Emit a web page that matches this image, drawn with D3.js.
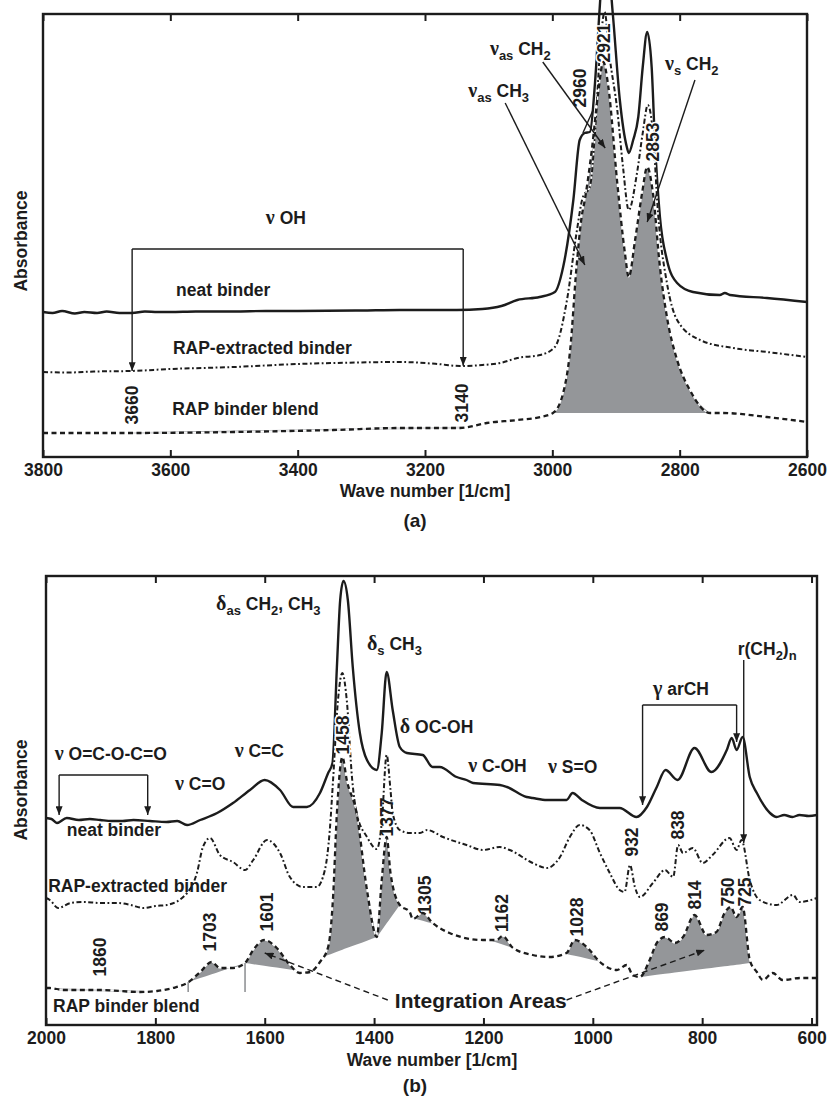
<!DOCTYPE html>
<html>
<head>
<meta charset="utf-8">
<script src="https://cdn.jsdelivr.net/npm/d3@7"></script>
<style>
  body { margin: 0; background: #fff; }
  svg { display: block; }
  text { font-family: "Liberation Sans", Arial, Helvetica, sans-serif; font-weight: bold; fill: #1c1c1c; }
</style>
</head>
<body>
<svg id="chart" width="829" height="1097"></svg>
<script>
// ---------- Panel (a): C-H stretching region, [wavenumber 1/cm, absorbance a.u.] ----------
const neatA = [[3800,1.45],[3785,1.44],[3770,1.46],[3750,1.435],[3735,1.45],[3715,1.44],[3700,1.455],[3680,1.44],[3660,1.44],[3640,1.455],[3620,1.45],[3600,1.45],[3560,1.455],[3500,1.455],[3450,1.46],[3400,1.46],[3300,1.465],[3240,1.47],[3150,1.47],[3110,1.48],[3080,1.51],[3055,1.57],[3020,1.60],[2996,1.65],[2983,1.90],[2967,2.57],[2957,3.17],[2949,3.24],[2941,3.25],[2933,3.74],[2926,4.45],[2917,5.2],[2905,4.43],[2894,3.57],[2883,3.10],[2880,3.04],[2873,3.17],[2865,3.40],[2858,3.90],[2851,4.25],[2844,3.90],[2839,3.17],[2831,2.40],[2820,1.97],[2804,1.74],[2779,1.65],[2737,1.62],[2729,1.64],[2721,1.62],[2663,1.59],[2600,1.55]];
const extractedA = [[3800,0.85],[3760,0.845],[3720,0.855],[3663,0.86],[3600,0.88],[3500,0.90],[3400,0.93],[3344,0.94],[3240,0.95],[3180,0.93],[3145,0.91],[3110,0.92],[3082,0.94],[3055,0.99],[3019,1.02],[2996,1.10],[2977,1.57],[2962,2.24],[2952,2.60],[2941,2.70],[2933,3.24],[2925,4.07],[2918,4.45],[2910,4.00],[2898,3.47],[2889,2.90],[2880,2.47],[2867,2.84],[2858,3.24],[2850,3.52],[2842,3.24],[2834,2.44],[2820,1.74],[2804,1.37],[2768,1.17],[2716,1.09],[2663,1.05],[2600,1.00]];
const blendA = [[3800,0.24],[3700,0.24],[3659,0.24],[3500,0.25],[3344,0.27],[3240,0.29],[3145,0.29],[3103,0.34],[3055,0.37],[3019,0.40],[2999,0.44],[2983,0.64],[2972,1.07],[2962,1.90],[2954,2.40],[2949,2.57],[2938,3.07],[2928,3.64],[2920,3.95],[2912,3.70],[2898,2.74],[2886,2.04],[2880,1.80],[2870,2.17],[2859,2.64],[2851,2.90],[2842,2.64],[2831,1.90],[2820,1.40],[2804,0.97],[2784,0.67],[2752,0.44],[2732,0.44],[2663,0.40],[2600,0.35]];
const ticksA = [3800, 3600, 3400, 3200, 3000, 2800, 2600];
// integrated bands of the blend spectrum: [from, to]
const bandsA = [[2999, 2752]];
const weakBandsA = [[3660, 3140]];
// peak labels: [wavenumber position, absorbance position, text]
const peakLabelsA = [[3660,0.52,"3660"],[3142,0.54,"3140"],[2957,3.69,"2960"],[2920,4.14,"2921"],[2843,3.15,"2853"]];

// ---------- Panel (b): fingerprint region ----------
const neatB = [[2000,2.07],[1990,2.06],[1980,2.02],[1962,2.07],[1940,2.05],[1920,2.06],[1901,2.05],[1880,2.04],[1860,2.04],[1840,2.05],[1810,2.04],[1780,2.03],[1760,2.04],[1742,2.00],[1718,2.05],[1687,2.12],[1658,2.22],[1627,2.35],[1600,2.45],[1572,2.35],[1548,2.18],[1523,2.18],[1499,2.32],[1484,2.52],[1476,2.62],[1468,3.58],[1462,4.25],[1456,4.44],[1448,4.25],[1439,3.58],[1426,2.92],[1413,2.65],[1395,2.55],[1386,2.92],[1377,3.53],[1366,3.15],[1353,2.78],[1340,2.72],[1311,2.70],[1293,2.58],[1280,2.58],[1249,2.48],[1231,2.45],[1219,2.42],[1170,2.40],[1157,2.38],[1121,2.28],[1110,2.27],[1084,2.25],[1048,2.25],[1037,2.32],[1020,2.25],[987,2.17],[951,2.17],[920,2.08],[901,2.18],[883,2.38],[867,2.55],[845,2.45],[814,2.77],[783,2.53],[755,2.75],[746,2.87],[737,2.75],[726,2.88],[713,2.48],[700,2.32],[676,2.12],[664,2.08],[650,2.10],[635,2.08],[622,2.10],[605,2.09],[590,2.10]];
const extractedB = [[2000,1.27],[1993,1.25],[1978,1.17],[1955,1.22],[1932,1.23],[1900,1.22],[1870,1.22],[1845,1.20],[1822,1.17],[1800,1.19],[1779,1.20],[1742,1.32],[1724,1.52],[1713,1.78],[1700,1.87],[1682,1.70],[1658,1.63],[1636,1.55],[1621,1.65],[1596,1.85],[1572,1.72],[1554,1.48],[1530,1.38],[1505,1.38],[1490,1.55],[1481,1.95],[1475,2.45],[1466,3.25],[1458,3.52],[1450,3.25],[1440,2.45],[1432,2.12],[1413,1.88],[1395,1.76],[1386,2.02],[1377,2.70],[1370,2.35],[1366,2.12],[1353,1.95],[1335,1.92],[1316,1.92],[1303,1.95],[1274,1.88],[1231,1.80],[1201,1.75],[1170,1.78],[1152,1.75],[1110,1.62],[1084,1.57],[1060,1.68],[1042,1.88],[1024,2.00],[1006,1.95],[987,1.72],[969,1.52],[951,1.35],[942,1.33],[932,1.60],[923,1.38],[914,1.28],[890,1.42],[868,1.55],[853,1.48],[844,1.80],[835,1.72],[817,1.77],[799,1.62],[781,1.70],[750,1.87],[737,1.75],[728,1.85],[713,1.45],[695,1.25],[664,1.20],[634,1.30],[622,1.23],[590,1.27]];
const blendB = [[2000,0.37],[1993,0.37],[1968,0.35],[1901,0.35],[1828,0.33],[1797,0.34],[1768,0.37],[1742,0.42],[1718,0.53],[1697,0.63],[1682,0.57],[1658,0.57],[1636,0.62],[1621,0.75],[1601,0.85],[1578,0.77],[1554,0.60],[1536,0.52],[1517,0.53],[1499,0.63],[1484,0.78],[1475,1.28],[1468,2.12],[1458,2.68],[1450,2.45],[1432,2.12],[1413,1.35],[1395,0.88],[1386,1.45],[1377,1.88],[1370,1.52],[1353,1.20],[1335,1.13],[1329,1.06],[1311,1.12],[1293,1.02],[1262,0.92],[1201,0.85],[1176,0.85],[1165,0.89],[1146,0.77],[1110,0.70],[1079,0.68],[1048,0.72],[1033,0.85],[1011,0.78],[987,0.63],[956,0.55],[938,0.60],[927,0.50],[914,0.48],[896,0.65],[883,0.82],[868,0.88],[850,0.82],[835,0.88],[814,1.10],[792,0.90],[774,0.93],[759,1.12],[748,1.18],[737,1.08],[726,1.18],[713,0.65],[700,0.53],[689,0.45],[671,0.52],[653,0.45],[620,0.47],[590,0.47]];
const ticksB = [2000, 1800, 1600, 1400, 1200, 1000, 800, 600];
const bandsB = [[1740,1636],[1636,1542],[1494,1395],[1395,1353],[1330,1290],[1190,1140],[1052,988],[914,710]];
const weakBandsB = [[1980,1820]];
const dropLinesB = [1740, 1636];
const peakLabelsB = [[1901,0.68,"1860"],[1700,0.93,"1703"],[1596,1.13,"1601"],[1457,2.90,"1458"],[1377,2.08,"1377"],[1307,1.30,"1305"],[1166,1.12,"1162"],[1029,1.08,"1028"],[929,1.83,"932"],[845,2.00,"838"],[874,1.08,"869"],[814,1.30,"814"],[753,1.33,"750"],[722,1.33,"725"]];

const svg = d3.select("#chart");
const FILL = "#949699";
const INK = "#1c1c1c";
const FS = 17.5;
const defs = svg.append("defs");
defs.append("marker").attr("id", "arrow").attr("viewBox", "0 0 10 8")
  .attr("refX", 10).attr("refY", 4).attr("markerWidth", 9).attr("markerHeight", 7)
  .attr("markerUnits", "userSpaceOnUse").attr("orient", "auto")
  .append("path").attr("d", "M0,0L10,4L0,8z").attr("fill", INK);

// linear read-out of a spectrum at a given wavenumber
function valueAt(series, w) {
  for (let i = 0; i < series.length - 1; i++) {
    const a = series[i], b = series[i + 1];
    if (w <= a[0] && w >= b[0]) return a[1] + (b[1] - a[1]) * (w - a[0]) / (b[0] - a[0]);
  }
  return series[series.length - 1][1];
}

function richText(g, x, y, parts, size) {
  const t = g.append("text").attr("x", x).attr("y", y).attr("font-size", size || FS);
  let shift = 0;
  parts.forEach(p => {
    const s = t.append("tspan").text(p.t);
    if (p.greek) s.attr("font-family", '"Liberation Serif","Times New Roman",serif').attr("font-size", 20);
    const target = p.sub ? 5 : 0;
    if (target !== shift) { s.attr("dy", target - shift); shift = target; }
    if (p.sub) s.attr("font-size", 13);
  });
  return t;
}

function drawPanel(cfg) {
  const { x, y, neat, extracted, blend, ticks, bands, weakBands, peakLabels, haloLabels, id } = cfg;
  const g = svg.append("g");
  const [x0, x1] = x.range();
  const [yb, yt] = y.range();

  defs.append("clipPath").attr("id", id).append("rect")
    .attr("x", x0).attr("y", 0).attr("width", x1 - x0).attr("height", yb);
  const plot = g.append("g").attr("clip-path", `url(#${id})`);

  // integration areas between the blend spectrum and straight baselines
  const area = (w1, w2) => {
    const v1 = valueAt(blend, w1), v2 = valueAt(blend, w2);
    const pts = [[w1, v1], ...blend.filter(d => d[0] < w1 && d[0] > w2), [w2, v2]];
    const base = w => v1 + (v2 - v1) * (w - w1) / (w2 - w1);
    return d3.area().x(d => x(d[0])).y0(d => y(base(d[0]))).y1(d => y(d[1]))
      .curve(d3.curveMonotoneX)(pts);
  };
  weakBands.forEach(b => plot.append("path").attr("d", area(b[0], b[1]))
    .attr("fill", "#b4b5b8").attr("stroke", "#b4b5b8").attr("stroke-width", 1.6));
  bands.forEach(b => plot.append("path").attr("d", area(b[0], b[1])).attr("fill", FILL));

  const line = d3.line().x(d => x(d[0])).y(d => y(d[1])).curve(d3.curveMonotoneX);
  plot.append("path").datum(neat).attr("d", line).attr("fill", "none")
    .attr("stroke", INK).attr("stroke-width", 2.4).attr("stroke-linejoin", "round");
  plot.append("path").datum(extracted).attr("d", line).attr("fill", "none")
    .attr("stroke", "#fff").attr("stroke-width", 1.4);
  plot.append("path").datum(extracted).attr("d", line).attr("fill", "none")
    .attr("stroke", INK).attr("stroke-width", 2).attr("stroke-dasharray", "5,2.5,1.8,2.5");
  plot.append("path").datum(blend).attr("d", line).attr("fill", "none")
    .attr("stroke", "#fff").attr("stroke-width", 1.2);
  plot.append("path").datum(blend).attr("d", line).attr("fill", "none")
    .attr("stroke", INK).attr("stroke-width", 2.3).attr("stroke-dasharray", "5,3.5");

  // frame and inward ticks
  g.append("rect").attr("x", x0).attr("y", yt).attr("width", x1 - x0).attr("height", yb - yt)
    .attr("fill", "none").attr("stroke", INK).attr("stroke-width", 2.4);
  const bottom = g.append("g").attr("transform", `translate(0,${yb})`)
    .call(d3.axisBottom(x).tickValues(ticks).tickSizeInner(-7).tickSizeOuter(0).tickPadding(7).tickFormat(d3.format("d")));
  const top = g.append("g").attr("transform", `translate(0,${yt})`)
    .call(d3.axisTop(x).tickValues(ticks).tickSizeInner(-7).tickSizeOuter(0).tickFormat(""));
  [bottom, top].forEach(ax => {
    ax.select(".domain").remove();
    ax.selectAll(".tick line").attr("stroke", INK).attr("stroke-width", 2);
  });
  bottom.selectAll(".tick text").attr("font-size", FS).attr("fill", INK)
    .attr("font-family", '"Liberation Sans", Arial, sans-serif');

  // rotated peak positions
  peakLabels.forEach(p => {
    const t = g.append("text").attr("transform", `translate(${x(p[0])},${y(p[1])}) rotate(-90)`)
      .attr("text-anchor", "middle").attr("dy", "0.36em").attr("font-size", FS).text(p[2]);
    if (haloLabels.includes(p[2])) t.attr("stroke", "#fff").attr("stroke-width", 3).attr("paint-order", "stroke");
  });
  return g;
}

function arrowLine(g, x, y, pts, dashed) {
  const p = g.append("path").attr("d", d3.line().x(d => x(d[0])).y(d => y(d[1]))(pts))
    .attr("fill", "none").attr("stroke", INK).attr("stroke-width", 1.4)
    .attr("marker-end", "url(#arrow)");
  if (dashed) p.attr("stroke-dasharray", "6,4");
  return p;
}

// ---------- Panel (a) ----------
const xA = d3.scaleLinear().domain([3800, 2600]).range([43, 807]);
const yA = d3.scaleLinear().domain([0, 4.43]).range([457, 14]);
const gA = drawPanel({ id: "clipA", x: xA, y: yA, neat: neatA, extracted: extractedA, blend: blendA,
  ticks: ticksA, bands: bandsA, weakBands: weakBandsA, peakLabels: peakLabelsA, haloLabels: ["2921", "2853"] });

gA.append("text").attr("x", 425).attr("y", 497).attr("text-anchor", "middle").attr("font-size", FS).text("Wave number [1/cm]");
gA.append("text").attr("transform", "translate(27,241) rotate(-90)").attr("text-anchor", "middle").attr("font-size", FS).text("Absorbance");
gA.append("text").attr("x", 415).attr("y", 527).attr("text-anchor", "middle").attr("font-size", 19)
  .attr("font-family", '"Liberation Serif","Times New Roman",serif').text("(a)");

richText(gA, xA(3450), yA(2.33), [{ t: "ν", greek: true }, { t: " OH" }]);
gA.append("path").attr("d", d3.line()([[xA(3660), yA(2.08)], [xA(3140), yA(2.08)]]))
  .attr("stroke", INK).attr("stroke-width", 1.4);
arrowLine(gA, xA, yA, [[3660, 2.08], [3660, valueAt(extractedA, 3660)]]);
arrowLine(gA, xA, yA, [[3140, 2.08], [3140, valueAt(extractedA, 3140)]]);

gA.append("text").attr("x", xA(3591)).attr("y", yA(1.61)).attr("font-size", FS).text("neat binder");
gA.append("text").attr("x", xA(3596)).attr("y", yA(1.03)).attr("font-size", FS).text("RAP-extracted binder");
gA.append("text").attr("x", xA(3597)).attr("y", yA(0.42)).attr("font-size", FS).text("RAP binder blend");

richText(gA, xA(3098), yA(4.02), [{ t: "ν", greek: true }, { t: "as", sub: true }, { t: " CH" }, { t: "2", sub: true }]);
arrowLine(gA, xA, yA, [[3015, 3.95], [2917, 3.09]]);
richText(gA, xA(3132), yA(3.60), [{ t: "ν", greek: true }, { t: "as", sub: true }, { t: " CH" }, { t: "3", sub: true }]);
arrowLine(gA, xA, yA, [[3074, 3.54], [2949, 1.92]]);
richText(gA, xA(2823), yA(3.87), [{ t: "ν", greek: true }, { t: "s", sub: true }, { t: " CH" }, { t: "2", sub: true }]);
arrowLine(gA, xA, yA, [[2776, 3.77], [2851, 2.35]]);
gA.append("path").attr("d", d3.line()([[xA(2936), yA(3.47)], [xA(2952), yA(3.24)]]))
  .attr("stroke", INK).attr("stroke-width", 1.4);

// ---------- Panel (b) ----------
const xB = d3.scaleLinear().domain([2000, 590]).range([46, 817]);
const yB = d3.scaleLinear().domain([0, 4.49]).range([1025, 576]);
const gB = drawPanel({ id: "clipB", x: xB, y: yB, neat: neatB, extracted: extractedB, blend: blendB,
  ticks: ticksB, bands: bandsB, weakBands: weakBandsB, peakLabels: peakLabelsB, haloLabels: ["1458"] });

dropLinesB.forEach(w => gB.append("path")
  .attr("d", d3.line()([[xB(w), yB(valueAt(blendB, w))], [xB(w), yB(0.33)]]))
  .attr("stroke", "#8a8c8f").attr("stroke-width", 1.5));

gB.append("text").attr("x", 432).attr("y", 1066).attr("text-anchor", "middle").attr("font-size", FS).text("Wave number [1/cm]");
gB.append("text").attr("transform", "translate(27,790) rotate(-90)").attr("text-anchor", "middle").attr("font-size", FS).text("Absorbance");
gB.append("text").attr("x", 415).attr("y", 1092).attr("text-anchor", "middle").attr("font-size", 19)
  .attr("font-family", '"Liberation Serif","Times New Roman",serif').text("(b)");

richText(gB, xB(1689), yB(4.15), [{ t: "δ", greek: true }, { t: "as", sub: true }, { t: " CH" }, { t: "2", sub: true }, { t: ", CH" }, { t: "3", sub: true }]);
richText(gB, xB(1413), yB(3.75), [{ t: "δ", greek: true }, { t: "s", sub: true }, { t: " CH" }, { t: "3", sub: true }]);
richText(gB, xB(1353), yB(2.92), [{ t: "δ", greek: true }, { t: " OC-OH" }]);
richText(gB, xB(1228), yB(2.53), [{ t: "ν", greek: true }, { t: " C-OH" }]);
richText(gB, xB(1082), yB(2.52), [{ t: "ν", greek: true }, { t: " S=O" }]);
richText(gB, xB(890), yB(3.30), [{ t: "γ", greek: true }, { t: " arCH" }]);
gB.append("path").attr("d", d3.line()([[xB(909), yB(3.20)], [xB(737), yB(3.20)]])).attr("stroke", INK).attr("stroke-width", 1.4);
arrowLine(gB, xB, yB, [[909, 3.20], [909, 2.20]]);
arrowLine(gB, xB, yB, [[737, 3.20], [737, 2.83]]);
richText(gB, xB(735), yB(3.70), [{ t: "r(CH" }, { t: "2", sub: true }, { t: ")" }, { t: "n", sub: true }]);
arrowLine(gB, xB, yB, [[724, 3.65], [724, 1.82]]);

richText(gB, xB(1984), yB(2.65), [{ t: "ν", greek: true }, { t: " O=C-O-C=O" }]);
gB.append("path").attr("d", d3.line()([[xB(1976), yB(2.50)], [xB(1814), yB(2.50)]])).attr("stroke", INK).attr("stroke-width", 1.4);
arrowLine(gB, xB, yB, [[1976, 2.50], [1976, 2.10]]);
arrowLine(gB, xB, yB, [[1814, 2.50], [1814, 2.10]]);
richText(gB, xB(1764), yB(2.35), [{ t: "ν", greek: true }, { t: " C=O" }]);
richText(gB, xB(1655), yB(2.68), [{ t: "ν", greek: true }, { t: " C=C" }]);

gB.append("text").attr("x", xB(1962)).attr("y", yB(1.89)).attr("font-size", FS).text("neat binder");
gB.append("text").attr("x", xB(1996)).attr("y", yB(1.33)).attr("font-size", FS).text("RAP-extracted binder");
gB.append("text").attr("x", xB(1987)).attr("y", yB(0.13)).attr("font-size", FS).text("RAP binder blend");
gB.append("text").attr("x", xB(1362)).attr("y", yB(0.17)).attr("font-size", 21).text("Integration Areas");
arrowLine(gB, xB, yB, [[1375, 0.25], [1600, 0.72]], true);
arrowLine(gB, xB, yB, [[1048, 0.25], [795, 0.75]], true);
</script>
</body>
</html>
